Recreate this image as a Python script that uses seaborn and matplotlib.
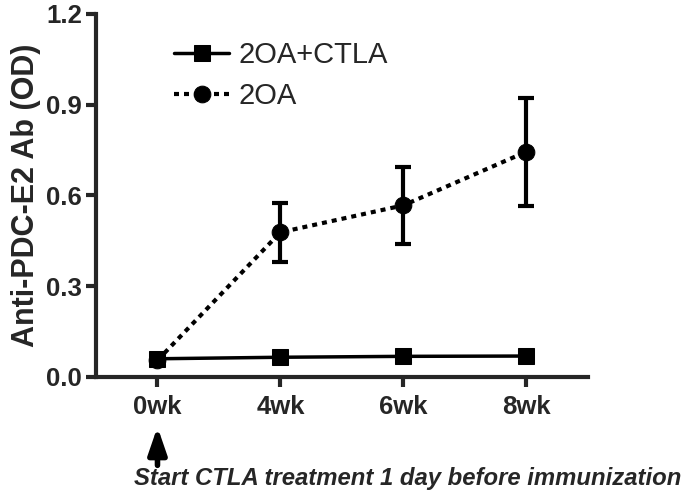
import matplotlib
matplotlib.use('Agg')
import matplotlib.pyplot as plt
import seaborn as sns
import pandas as pd

# data
weeks = ['0wk', '4wk', '6wk', '8wk']
ctla_mean = [0.060, 0.065, 0.068, 0.069]
ctla_err = [0.0, 0.0, 0.0, 0.0]
oa_mean = [0.055, 0.478, 0.567, 0.744]
oa_err = [0.0, 0.097, 0.128, 0.178]

sns.set_style('ticks')
plt.rcParams['font.family'] = ['Liberation Sans', 'DejaVu Sans']

df = pd.DataFrame({
    'pos': list(range(len(weeks))) * 2,
    'od': ctla_mean + oa_mean,
    'err': ctla_err + oa_err,
    'group': ['2OA+CTLA'] * 4 + ['2OA'] * 4,
})

fig = plt.figure(figsize=(6.81, 4.94), dpi=100)
ax = fig.add_axes([0.141, 0.237, 0.722, 0.735])

# error bars first so markers sit on top
oa = df[df.group == '2OA']
ax.errorbar(oa.pos, oa.od, yerr=oa.err, fmt='none', ecolor='black',
            elinewidth=3, capsize=6, capthick=3, zorder=2)

sns.lineplot(data=df[df.group == '2OA+CTLA'], x='pos', y='od', ax=ax,
             color='black', lw=2.5, marker='s', markersize=11,
             markeredgecolor='black', label='2OA+CTLA', zorder=3)
sns.lineplot(data=oa, x='pos', y='od', ax=ax,
             color='black', lw=3, marker='o', markersize=12,
             markeredgecolor='black', linestyle=(0, (1.2, 1.2)),
             label='2OA', zorder=3)

ax.set_xlim(-0.5, 3.5)
ax.set_ylim(0, 1.2)
ax.set_yticks([0.0, 0.3, 0.6, 0.9, 1.2])
ax.set_yticklabels(['0.0', '0.3', '0.6', '0.9', '1.2'])
ax.set_xticks(range(len(weeks)))
ax.set_xticklabels(weeks)
ax.set_xlabel('')
ax.set_ylabel('Anti-PDC-E2 Ab (OD)', fontsize=22, fontweight='bold', labelpad=4)
for lab in ax.get_xticklabels() + ax.get_yticklabels():
    lab.set_fontweight('bold')
    lab.set_fontsize(18.5)
ax.tick_params(width=3, length=7, pad=3)
ax.tick_params(axis='x', pad=6)

sns.despine(ax=ax)
for s in ['left', 'bottom']:
    ax.spines[s].set_linewidth(3)

ax.legend(loc='upper left', bbox_to_anchor=(0.105, 0.997), frameon=False,
          fontsize=21, handlelength=1.9, labelspacing=0.45, handletextpad=0.3)

# arrow + note under the axis
ax.annotate('', xy=(0, 0.136), xytext=(0, 0.058),
            xycoords=('data', 'figure fraction'),
            textcoords=('data', 'figure fraction'),
            arrowprops=dict(arrowstyle='-|>,head_width=0.55,head_length=1.6',
                            color='black', lw=4, shrinkA=0, shrinkB=0))
fig.text(0.197, 0.031, 'Start CTLA treatment 1 day before immunization',
         fontsize=17.2, fontweight='bold', fontstyle='italic', ha='left', va='center')

fig.savefig('out.png', dpi=100)
